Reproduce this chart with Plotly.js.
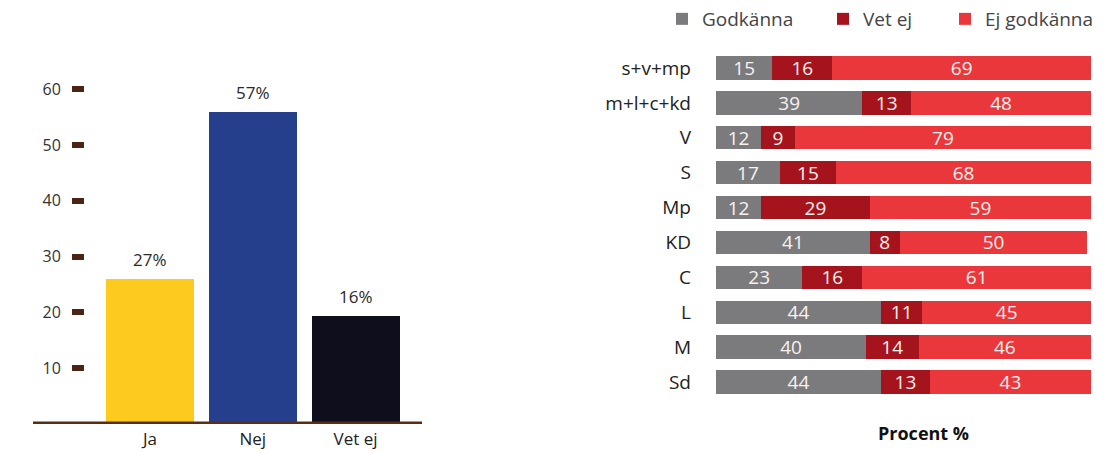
<!DOCTYPE html>
<html>
<head>
<meta charset="utf-8">
<script src="https://cdn.plot.ly/plotly-3.0.1.min.js"></script>
<style>html,body{margin:0;padding:0;background:#fff;}#chart{width:1106px;height:453px;}</style>
</head>
<body>
<div id="chart"></div>
<script>
// Left chart data
const answerCats = ['Ja', 'Nej', 'Vet ej'];
const answerHeights = [26, 56, 19.4];
const answerLabels = ['27%', '57%', '16%'];
const answerColors = ['#fccb1e', '#263f8c', '#0e0e1c'];
const leftTicks = [10, 20, 30, 40, 50, 60];

// Right chart data
const parties = ['s+v+mp', 'm+l+c+kd', 'V', 'S', 'Mp', 'KD', 'C', 'L', 'M', 'Sd'];
const godkanna = [15, 39, 12, 17, 12, 41, 23, 44, 40, 44];
const vetEj = [16, 13, 9, 15, 29, 8, 16, 11, 14, 13];
const ejGodkanna = [69, 48, 79, 68, 59, 50, 61, 45, 46, 43];
const seriesNames = ['Godkänna', 'Vet ej', 'Ej godkänna'];
const seriesColors = ['#7b7b7d', '#a5141c', '#ea373c'];

const W = 1106, H = 453;
const font = 'Open Sans, sans-serif';

const traces = [
  {
    type: 'bar', x: answerCats, y: answerHeights, xaxis: 'x', yaxis: 'y',
    marker: {color: answerColors}, width: 0.857, showlegend: false, hoverinfo: 'skip'
  }
];
const rightSeries = [godkanna, vetEj, ejGodkanna];
const legendIds = ['legend', 'legend2', 'legend3'];
rightSeries.forEach((vals, i) => {
  traces.push({
    type: 'bar', orientation: 'h', name: seriesNames[i], legend: legendIds[i],
    x: vals, y: parties, xaxis: 'x2', yaxis: 'y2',
    marker: {color: seriesColors[i]},
    text: vals.map(String), textposition: 'inside', insidetextanchor: 'middle', textangle: 0,
    textfont: {family: font, size: 19, color: '#f7f2ee'},
    constraintext: 'none', hoverinfo: 'skip'
  });
});

const annotations = answerCats.map((c, i) => ({
  x: c, y: answerHeights[i], xref: 'x', yref: 'y', text: answerLabels[i],
  showarrow: false, yanchor: 'bottom', yshift: 6,
  font: {family: font, size: 17, color: '#2a2a2a'}
}));
annotations.push({
  x: 923 / W, y: (H - 433) / H, xref: 'paper', yref: 'paper', text: '<b>Procent %</b>',
  showarrow: false, xanchor: 'center', yanchor: 'middle',
  font: {family: font, size: 18, color: '#111'}
});

const legendBase = {
  orientation: 'h', y: 1.0, xanchor: 'left', yanchor: 'top',
  font: {family: font, size: 19, color: '#444'}, itemwidth: 30,
  bgcolor: 'rgba(0,0,0,0)'
};
const legendX = [662, 823, 945];

const layout = {
  width: W, height: H,
  margin: {l: 0, r: 0, t: 0, b: 0},
  paper_bgcolor: '#fff', plot_bgcolor: 'rgba(0,0,0,0)',
  barmode: 'stack', bargap: 0.33,
  showlegend: true,
  legend: Object.assign({}, legendBase, {x: legendX[0] / W}),
  legend2: Object.assign({}, legendBase, {x: legendX[1] / W}),
  legend3: Object.assign({}, legendBase, {x: legendX[2] / W}),
  xaxis: {
    domain: [98.6 / W, 407 / W], anchor: 'y', type: 'category',
    showline: false, ticks: '', showgrid: false, zeroline: false,
    ticklabelstandoff: 3,
    tickfont: {family: font, size: 17, color: '#222'}
  },
  yaxis: {
    domain: [(H - 424) / H, (H - 61.3) / H], range: [0, 65],
    anchor: 'free', position: 84 / W,
    tickvals: leftTicks, ticks: 'outside', ticklen: 12, tickwidth: 6, tickcolor: '#4a2515',
    ticklabelstandoff: 8,
    showline: false, showgrid: false, zeroline: false,
    tickfont: {family: font, size: 16, color: '#333'}
  },
  xaxis2: {
    domain: [716 / W, 1091 / W], anchor: 'y2', range: [0, 100],
    showticklabels: false, ticks: '', showgrid: false, zeroline: false, showline: false
  },
  yaxis2: {
    domain: [(H - 399.5) / H, (H - 50.5) / H], anchor: 'x2', type: 'category',
    autorange: 'reversed', ticks: '', showgrid: false, zeroline: false, showline: false,
    ticklabelstandoff: 24,
    tickfont: {family: font, size: 19, color: '#222'}
  },
  shapes: [{
    type: 'line', xref: 'paper', yref: 'y', x0: 33 / W, x1: 422 / W, y0: 0, y1: 0,
    line: {color: '#5a2e12', width: 5}
  }],
  annotations: annotations
};

Plotly.newPlot('chart', traces, layout, {displayModeBar: false, staticPlot: true});
</script>
</body>
</html>
